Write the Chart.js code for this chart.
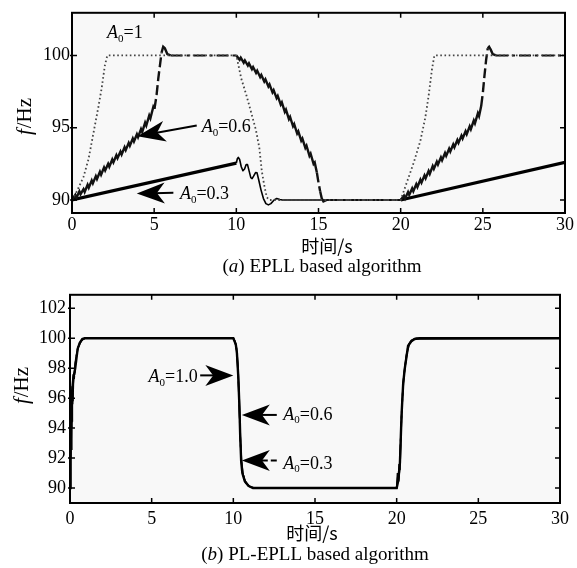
<!DOCTYPE html>
<html>
<head>
<meta charset="utf-8">
<script src="https://cdn.jsdelivr.net/npm/chart.js@4.4.1/dist/chart.umd.min.js"></script>
<style>
  html, body { margin: 0; padding: 0; background: #ffffff; }
  #wrap { position: relative; width: 577px; height: 568px; }
  canvas { position: absolute; left: 0; display: block; }
  #cTop { top: 0; }
  #cBot { top: 280px; }
</style>
</head>
<body>
<div id="wrap">
  <canvas id="cTop" width="577" height="280"></canvas>
  <canvas id="cBot" width="577" height="288"></canvas>
</div>
<script>
// ---- tick labels ----
const xTicks = [0, 5, 10, 15, 20, 25, 30];
const yTicksA = [90, 95, 100];
const yTicksB = [90, 92, 94, 96, 98, 100, 102];

// ---- (a) EPLL: frequency estimate (Hz) vs time (s) ----
// A0 = 1
const tA10 = [0, 0.3, 0.7, 1.0, 1.3, 1.6, 1.8, 2.0, 2.15, 10, 10.3, 10.6, 10.94, 11.2, 11.4, 11.55, 11.7, 11.85, 12.0, 20, 20.4, 20.8, 21.2, 21.5, 21.7, 21.9, 22.05, 30];
const fA10 = [90, 90.6, 91.6, 92.8, 94.6, 96.4, 97.7, 99.3, 100, 100, 98.4, 97.3, 95.9, 94.8, 93.6, 92.0, 91.0, 90.2, 90, 90, 91.3, 92.6, 94.1, 95.7, 97.2, 99.0, 100, 100];
// A0 = 0.6 (ripple on the ramps)
const tA06 = [0, 0.2, 0.27, 0.45, 0.52, 0.7, 0.77, 0.95, 1.02, 1.2, 1.27, 1.45, 1.52, 1.7, 1.77, 1.95, 2.02, 2.2, 2.27, 2.45, 2.52, 2.7, 2.77, 2.95, 3.02, 3.2, 3.27, 3.45, 3.52, 3.7, 3.77, 3.95, 4.02, 4.2, 4.27, 4.45, 4.52, 4.7, 4.77, 4.95, 5.02,
  5.15, 5.25, 5.35, 5.45, 5.55, 5.65, 5.8, 6.0,
  10.0, 10.2, 10.27, 10.45, 10.52, 10.7, 10.77, 10.95, 11.02, 11.2, 11.27, 11.45, 11.52, 11.7, 11.77, 11.95, 12.02, 12.2, 12.27, 12.45, 12.52, 12.7, 12.77, 12.95, 13.02, 13.2, 13.27, 13.45, 13.52, 13.7, 13.77, 13.95, 14.02, 14.2, 14.27, 14.45, 14.52, 14.7, 14.77,
  14.9, 15.0, 15.1, 15.2, 15.3, 15.4, 15.5,
  20.0, 20.2, 20.27, 20.45, 20.52, 20.7, 20.77, 20.95, 21.02, 21.2, 21.27, 21.45, 21.52, 21.7, 21.77, 21.95, 22.02, 22.2, 22.27, 22.45, 22.52, 22.7, 22.77, 22.95, 23.02, 23.2, 23.27, 23.45, 23.52, 23.7, 23.77, 23.95, 24.02, 24.2, 24.27, 24.45, 24.52, 24.7, 24.77,
  24.9, 25.0, 25.1, 25.2, 25.3, 25.38, 25.48, 25.6, 25.8, 30];
const fA06 = [90, 90.35, 90.15, 90.6, 90.4, 90.75, 90.55, 91.05, 90.85, 91.35, 91.15, 91.65, 91.45, 91.95, 91.75, 92.25, 92.05, 92.5, 92.3, 92.8, 92.6, 93.1, 92.9, 93.35, 93.15, 93.65, 93.45, 93.95, 93.75, 94.25, 94.05, 94.55, 94.35, 94.9, 94.7, 95.35, 95.15, 95.85, 95.65, 96.45, 96.3,
  97.3, 98.4, 99.3, 100.2, 100.6, 100.5, 100.1, 100.0,
  100.0, 99.7, 99.85, 99.5, 99.65, 99.3, 99.45, 99.05, 99.2, 98.8, 98.95, 98.5, 98.65, 98.2, 98.35, 97.85, 98.0, 97.45, 97.6, 97.05, 97.2, 96.6, 96.75, 96.1, 96.25, 95.6, 95.75, 95.1, 95.25, 94.6, 94.75, 94.1, 94.25, 93.6, 93.75, 93.05, 93.2, 92.5, 92.6,
  91.9, 91.2, 90.6, 90.1, 89.9, 89.95, 90.0,
  90.0, 90.3, 90.1, 90.55, 90.35, 90.8, 90.6, 91.1, 90.9, 91.4, 91.2, 91.7, 91.5, 92.0, 91.8, 92.35, 92.15, 92.65, 92.45, 92.95, 92.75, 93.25, 93.05, 93.55, 93.35, 93.85, 93.65, 94.15, 93.95, 94.45, 94.25, 94.75, 94.55, 95.1, 94.9, 95.5, 95.3, 96.0, 95.8,
  96.5, 97.4, 98.6, 99.7, 100.5, 100.6, 100.4, 100.1, 100.0, 100.0];
// A0 = 0.3
const tA03 = [0, 10.0, 10.06, 10.12, 10.2, 10.3, 10.4, 10.5, 10.6, 10.68, 10.78, 10.88, 10.96, 11.05, 11.17, 11.26, 11.36, 11.5, 11.65, 11.8, 11.95, 12.1, 12.3, 12.46, 12.65, 12.8, 20, 30];
const fA03 = [90, 92.55, 92.85, 92.95, 92.8, 92.3, 92.02, 92.15, 92.45, 92.45, 92.0, 91.55, 91.48, 91.65, 91.9, 91.88, 91.4, 90.7, 90.1, 89.75, 89.66, 89.75, 90.0, 90.1, 90.04, 90, 90, 92.6];

// ---- (b) PL-EPLL ----
const tB10 = [0, 0.03, 0.07, 0.12, 0.2, 0.32, 0.47, 0.6, 0.75, 0.9, 10, 10.15, 10.22, 10.3, 10.37, 10.42, 10.48, 10.55, 10.7, 10.92, 11.2, 20, 20.1, 20.2, 20.3, 20.4, 20.5, 20.7, 20.9, 21.1, 21.4, 30];
const fB10 = [90, 92, 94.5, 96.3, 97.3, 98.0, 99.3, 99.7, 99.95, 100, 100, 99.6, 99.0, 97.5, 95.5, 93.5, 91.8, 91.0, 90.45, 90.15, 90, 90, 90.5, 91.7, 94.9, 97.0, 98.0, 99.5, 99.8, 99.95, 100, 100];
const tB06 = [0, 0.02, 0.05, 0.07, 0.1, 0.13, 0.16, 0.2, 0.25, 0.32, 0.45, 0.6, 0.8, 1.0, 10, 10.12, 10.2, 10.28, 10.35, 10.41, 10.47, 10.55, 10.7, 10.9, 11.2, 20, 20.08, 20.12, 20.18, 20.25, 20.3, 20.4, 20.5, 20.7, 20.9, 21.2, 30];
const fB06 = [90, 93.5, 92.0, 95.5, 94.0, 96.8, 95.6, 97.6, 97.2, 98.3, 99.2, 99.7, 99.95, 100, 100, 99.7, 99.2, 97.9, 95.9, 93.8, 92.0, 91.1, 90.5, 90.2, 90, 90, 90.9, 90.4, 91.3, 93.5, 94.9, 97, 98, 99.5, 99.85, 100, 100];
const tB03 = [0, 0.02, 0.04, 0.06, 0.08, 0.1, 0.12, 0.15, 0.18, 0.22, 0.28, 0.35, 0.5, 0.7, 0.9, 10, 10.1, 10.2, 10.28, 10.36, 10.43, 10.5, 10.6, 10.75, 11.0, 11.3, 20, 20.05, 20.1, 20.15, 20.2, 20.27, 20.35, 20.45, 20.6, 20.8, 21.1, 30];
const fB03 = [90, 92.5, 91, 94, 92.6, 95.5, 94.2, 96.6, 95.8, 97.5, 97.6, 98.6, 99.4, 99.85, 100, 100, 99.8, 99.3, 98.2, 96.0, 93.4, 91.8, 90.9, 90.35, 90.1, 90, 90, 91.0, 90.5, 91.6, 91.2, 93.8, 96.0, 97.6, 98.9, 99.7, 99.95, 100];

const pts = (t, f) => t.map((x, i) => ({ x: x, y: f[i] }));

const SERIF = '"Liberation Serif", "Times New Roman", serif';
const CJK = '"Noto Sans CJK SC", "Liberation Serif", serif';

// A0 labels and arrows, placed in data units
const notesA = [
  { value: '1',   at: [2.13, 101.5] },
  { value: '0.6', at: [7.89, 95.0],  tip: [3.98, 94.41], tail: [7.59, 95.16] },
  { value: '0.3', at: [6.57, 90.39], tip: [3.94, 90.45], tail: [6.17, 90.5] }
];
const notesB = [
  { value: '1.0', at: [4.81, 97.37], tip: [10.0, 97.52], tail: [7.97, 97.52] },
  { value: '0.6', at: [13.06, 94.88], tip: [10.52, 94.88], tail: [12.66, 94.88] },
  { value: '0.3', at: [13.06, 91.6],  tip: [10.52, 91.83], tail: [12.66, 91.83], dashed: true }
];

function drawA0(ctx, x, y, value, size) {
  ctx.textBaseline = 'middle';
  ctx.textAlign = 'left';
  ctx.fillStyle = '#000';
  ctx.font = 'italic ' + size + 'px ' + SERIF;
  ctx.fillText('A', x, y);
  let w = ctx.measureText('A').width;
  ctx.font = Math.round(size * 0.6) + 'px ' + SERIF;
  ctx.fillText('0', x + w, y + size * 0.3);
  w += ctx.measureText('0').width;
  ctx.font = size + 'px ' + SERIF;
  ctx.fillText('=' + value, x + w, y);
}

function drawArrow(ctx, x0, y0, x1, y1, len, half, dashed) {
  const ang = Math.atan2(y1 - y0, x1 - x0);
  ctx.save();
  ctx.strokeStyle = '#000';
  ctx.fillStyle = '#000';
  ctx.lineWidth = 2;
  ctx.setLineDash(dashed ? [6, 3] : []);
  ctx.beginPath();
  ctx.moveTo(x0, y0);
  ctx.lineTo(x1 - Math.cos(ang) * len * 0.6, y1 - Math.sin(ang) * len * 0.6);
  ctx.stroke();
  ctx.setLineDash([]);
  ctx.translate(x1, y1);
  ctx.rotate(ang);
  ctx.beginPath();
  ctx.moveTo(0, 0);
  ctx.quadraticCurveTo(-len * 0.5, -half * 0.5, -len, -half);
  ctx.lineTo(-len * 0.72, 0);
  ctx.lineTo(-len, half);
  ctx.quadraticCurveTo(-len * 0.5, half * 0.5, 0, 0);
  ctx.closePath();
  ctx.fill();
  ctx.restore();
}

// Frame, inward ticks, plot background, annotations and captions
const panelDecor = {
  id: 'panelDecor',
  beforeDraw(chart) {
    const a = chart.chartArea, ctx = chart.ctx;
    ctx.save();
    ctx.fillStyle = '#f8f8f8';
    ctx.fillRect(a.left, a.top, a.right - a.left, a.bottom - a.top);
    ctx.restore();
  },
  afterDraw(chart, args, opts) {
    const a = chart.chartArea, ctx = chart.ctx;
    const xs = chart.scales.x, ys = chart.scales.y;
    ctx.save();
    // inward tick marks on all four sides
    ctx.strokeStyle = '#000';
    ctx.lineWidth = 1.5;
    const tl = 5;
    ctx.beginPath();
    xs.ticks.forEach(t => {
      const px = xs.getPixelForValue(t.value);
      ctx.moveTo(px, a.bottom); ctx.lineTo(px, a.bottom - tl);
      ctx.moveTo(px, a.top); ctx.lineTo(px, a.top + tl);
    });
    ys.ticks.forEach(t => {
      const py = ys.getPixelForValue(t.value);
      ctx.moveTo(a.left - 2, py); ctx.lineTo(a.left + tl, py);
      ctx.moveTo(a.right, py); ctx.lineTo(a.right - tl, py);
    });
    ctx.stroke();
    // frame
    ctx.lineWidth = 2;
    ctx.strokeRect(a.left, a.top, a.right - a.left, a.bottom - a.top);

    // annotations
    (opts.notes || []).forEach(n => {
      if (n.tip) {
        drawArrow(ctx,
          xs.getPixelForValue(n.tail[0]), ys.getPixelForValue(n.tail[1]),
          xs.getPixelForValue(n.tip[0]), ys.getPixelForValue(n.tip[1]),
          28, 10.5, n.dashed);
      }
      drawA0(ctx, xs.getPixelForValue(n.at[0]), ys.getPixelForValue(n.at[1]), n.value, 18);
    });

    // y-axis title: italic f + /Hz, rotated
    ctx.save();
    ctx.translate(opts.yTitle[0], opts.yTitle[1]);
    ctx.rotate(-Math.PI / 2);
    ctx.textBaseline = 'middle';
    ctx.fillStyle = '#000';
    ctx.font = 'italic 21px ' + SERIF;
    const wf = ctx.measureText('f').width;
    ctx.font = '21px ' + SERIF;
    const wr = ctx.measureText('/Hz').width;
    ctx.textAlign = 'left';
    ctx.font = 'italic 21px ' + SERIF;
    ctx.fillText('f', -(wf + wr) / 2, 0);
    ctx.font = '21px ' + SERIF;
    ctx.fillText('/Hz', -(wf + wr) / 2 + wf + 1, 0);
    ctx.restore();

    // x-axis title
    ctx.fillStyle = '#000';
    ctx.textAlign = 'center';
    ctx.textBaseline = 'middle';
    ctx.font = '18px ' + CJK;
    ctx.fillText('时间/s', opts.xTitle[0], opts.xTitle[1]);

    // caption with italic panel letter
    const c = opts.caption;
    const p1 = '(', p3 = ') ' + c.rest;
    ctx.font = 'italic 19px ' + SERIF;
    const wl = ctx.measureText(c.letter).width;
    ctx.font = '19px ' + SERIF;
    const w1 = ctx.measureText(p1).width, w3 = ctx.measureText(p3).width;
    let x = c.x - (w1 + wl + w3) / 2;
    ctx.textAlign = 'left';
    ctx.fillText(p1, x, c.y); x += w1;
    ctx.font = 'italic 19px ' + SERIF;
    ctx.fillText(c.letter, x, c.y); x += wl;
    ctx.font = '19px ' + SERIF;
    ctx.fillText(p3, x, c.y);
    ctx.restore();
  }
};

function baseOptions(yMin, yMax, yTicks, yWidth, xHeight, pad, xPad, yPad, decor) {
  return {
    responsive: false,
    animation: false,
    devicePixelRatio: 1,
    layout: { padding: pad },
    plugins: { legend: { display: false }, tooltip: { enabled: false }, panelDecor: decor },
    elements: { point: { radius: 0 }, line: { tension: 0 } },
    scales: {
      x: {
        type: 'linear', min: 0, max: 30,
        afterBuildTicks: s => { s.ticks = xTicks.map(v => ({ value: v })); },
        afterFit: s => { s.height = xHeight; },
        grid: { display: false, drawTicks: false }, border: { display: false },
        ticks: { color: '#000', padding: xPad, font: { family: SERIF, size: 18 }, maxRotation: 0 }
      },
      y: {
        type: 'linear', min: yMin, max: yMax,
        afterBuildTicks: s => { s.ticks = yTicks.map(v => ({ value: v })); },
        afterFit: s => { s.width = yWidth; },
        grid: { display: false, drawTicks: false }, border: { display: false },
        ticks: { color: '#000', padding: yPad, font: { family: SERIF, size: 18 } }
      }
    }
  };
}

const flat = ctx => Math.abs(ctx.p1.parsed.y - ctx.p0.parsed.y) < 1e-9;
const steep = ctx => Math.abs((ctx.p1.parsed.y - ctx.p0.parsed.y) / (ctx.p1.parsed.x - ctx.p0.parsed.x)) > 6;

new Chart(document.getElementById('cTop'), {
  type: 'line',
  data: {
    datasets: [
      { label: 'A0=1', data: pts(tA10, fA10), borderColor: '#444', borderWidth: 1.8, borderDash: [1.6, 2.6] },
      { label: 'A0=0.6', data: pts(tA06, fA06), borderColor: '#111', borderWidth: 2.4,
        segment: {
          borderDash: ctx => flat(ctx) ? [12, 4, 3, 4] : (steep(ctx) ? [10, 4] : undefined),
          borderWidth: ctx => flat(ctx) ? 2 : undefined
        } },
      { label: 'A0=0.3', data: pts(tA03, fA03), borderColor: '#000', borderWidth: 3.2, borderJoinStyle: 'round',
        segment: { borderWidth: ctx => (ctx.p0.parsed.x >= 10 && ctx.p1.parsed.x <= 20) ? 1.6 : undefined } }
    ]
  },
  options: baseOptions(89.1, 102.95, yTicksA, 72, 67, { top: 9, right: 12, left: 0, bottom: 0 }, 1, 2, {
    notes: notesA,
    yTitle: [25, 117],
    xTitle: [327, 246],
    caption: { letter: 'a', rest: 'EPLL based algorithm', x: 322, y: 267 }
  }),
  plugins: [panelDecor]
});

new Chart(document.getElementById('cBot'), {
  type: 'line',
  data: {
    datasets: [
      { label: 'A0=1.0', data: pts(tB10, fB10), borderColor: '#000', borderWidth: 2.4 },
      { label: 'A0=0.6', data: pts(tB06, fB06), borderColor: '#000', borderWidth: 1.6, borderDash: [14, 3, 3, 3] },
      { label: 'A0=0.3', data: pts(tB03, fB03), borderColor: '#000', borderWidth: 1.6 }
    ]
  },
  options: baseOptions(89.0, 102.9, yTicksB, 70, 65, { top: 3, right: 17, left: 0, bottom: 0 }, 5, 4, {
    notes: notesB,
    yTitle: [22, 106],
    xTitle: [312, 253],
    caption: { letter: 'b', rest: 'PL-EPLL based algorithm', x: 315, y: 275 }
  }),
  plugins: [panelDecor]
});
</script>
</body>
</html>
